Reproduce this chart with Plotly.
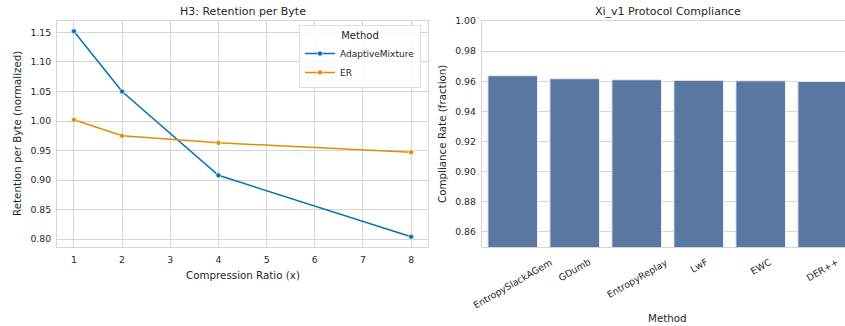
import plotly.graph_objects as go

# ---- data ----
compression_ratio = [1, 2, 4, 8]
adaptive_mixture = [1.152, 1.050, 0.908, 0.804]
er = [1.002, 0.975, 0.963, 0.947]

methods = ["EntropySlackAGem", "GDumb", "EntropyReplay", "LwF", "EWC", "DER++"]
compliance = [0.9637, 0.9617, 0.9610, 0.9606, 0.9603, 0.9599]

left_yticks = [0.80, 0.85, 0.90, 0.95, 1.00, 1.05, 1.10, 1.15]
right_yticks = [0.86, 0.88, 0.90, 0.92, 0.94, 0.96, 0.98, 1.00]

W, H = 845, 326
FONT = "DejaVu Sans"
TXT = "#262626"
GRID = "#d5d5d5"

def px_x(p):
    return p / W

def px_y(p):
    return 1 - p / H

fig = go.Figure()

fig.add_trace(go.Scatter(
    x=compression_ratio, y=adaptive_mixture, name="AdaptiveMixture",
    mode="lines+markers", line=dict(color="#0173b2", width=1.5),
    marker=dict(size=5, color="#0173b2", line=dict(color="white", width=0.6)),
    xaxis="x", yaxis="y"))
fig.add_trace(go.Scatter(
    x=compression_ratio, y=er, name="ER",
    mode="lines+markers", line=dict(color="#de8f05", width=1.5),
    marker=dict(size=5, color="#de8f05", line=dict(color="white", width=0.6)),
    xaxis="x", yaxis="y"))

fig.add_trace(go.Bar(
    x=methods, y=compliance, width=0.8, showlegend=False,
    marker=dict(color="#5977a0", line=dict(color="#e8ecf2", width=1)),
    xaxis="x2", yaxis="y2"))

ydom = [px_y(247), px_y(21)]
axis_common = dict(showline=True, linecolor=GRID, linewidth=1, mirror=True,
                   gridcolor=GRID, gridwidth=1, zeroline=False, ticks="",
                   automargin=False,
                   tickfont=dict(family=FONT, size=9.3, color=TXT))

fig.update_layout(
    width=W, height=H,
    margin=dict(l=0, r=0, t=0, b=0, autoexpand=False),
    paper_bgcolor="white", plot_bgcolor="white",
    font=dict(family=FONT, color=TXT),
    xaxis=dict(domain=[px_x(57), px_x(428)], range=[0.65, 8.35],
               tickvals=list(range(1, 9)), anchor="y", ticklabelstandoff=4,
               **axis_common),
    yaxis=dict(domain=ydom, range=[0.7866, 1.1694], tickvals=left_yticks,
               tickformat=".2f", anchor="x", ticklabelstandoff=3, **axis_common),
    xaxis2=dict(domain=[px_x(481.7), 1.0], range=[-0.5, 5.36], anchor="y2",
                showgrid=False, showticklabels=False, **axis_common),
    yaxis2=dict(domain=ydom, range=[0.85, 1.0], tickvals=right_yticks,
                tickformat=".2f", anchor="x2", ticklabelstandoff=3, **axis_common),
    bargap=0.2,
    legend=dict(x=px_x(421), y=px_y(25), xanchor="right", yanchor="top",
                bgcolor="rgba(255,255,255,0.85)", bordercolor="#dddddd", borderwidth=1,
                font=dict(family=FONT, size=9, color=TXT),
                title=dict(text="Method", side="top center",
                           font=dict(family=FONT, size=10, color=TXT)),
                itemwidth=30, tracegroupgap=0),
)

# rotated category labels, centred under each bar (matplotlib-style)
for m in methods:
    fig.add_annotation(text=m, x=m, xref="x2", y=px_y(255), yref="paper",
                       xanchor="center", yanchor="top", showarrow=False,
                       textangle=-30, borderpad=0,
                       font=dict(family=FONT, size=9.3, color=TXT))

ann = [
    dict(text="H3: Retention per Byte", x=px_x(242.5), y=px_y(11), size=11, angle=0),
    dict(text="Xi_v1 Protocol Compliance", x=px_x(667.7), y=px_y(11), size=11, angle=0),
    dict(text="Compression Ratio (x)", x=px_x(242.5), y=px_y(275), size=10.3, angle=0),
    dict(text="Retention per Byte (normalized)", x=px_x(17), y=px_y(134), size=10.3, angle=-90),
    dict(text="Method", x=px_x(667.7), y=px_y(318), size=10.3, angle=0),
    dict(text="Compliance Rate (fraction)", x=px_x(442), y=px_y(134), size=10.3, angle=-90),
]
for a in ann:
    fig.add_annotation(text=a["text"], x=a["x"], y=a["y"], xref="paper", yref="paper",
                       xanchor="center", yanchor="middle", showarrow=False,
                       textangle=a["angle"],
                       font=dict(family=FONT, size=a["size"], color=TXT))

fig.write_html("out.html", config={"displayModeBar": False},
               post_script="document.body.style.margin='0';")
